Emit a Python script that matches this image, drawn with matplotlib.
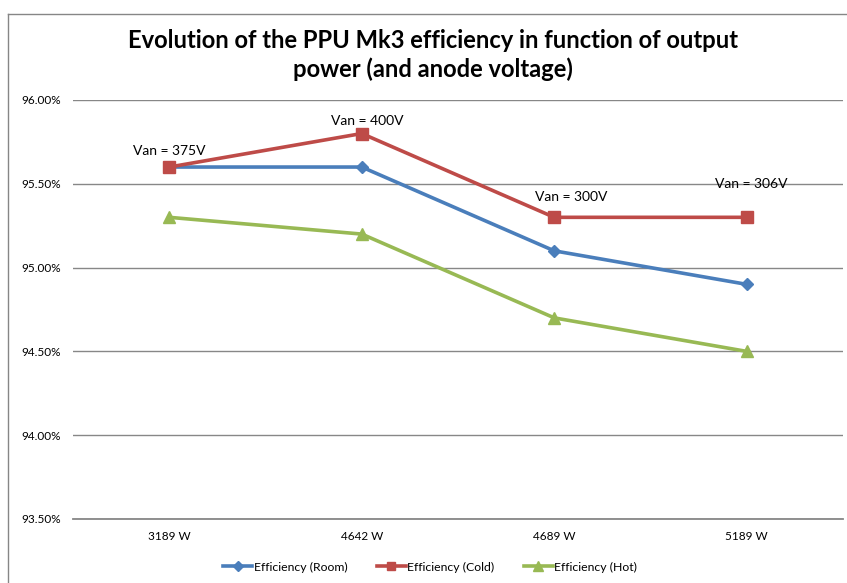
import matplotlib
matplotlib.use('Agg')
from matplotlib import pyplot as plt
from matplotlib.lines import Line2D
from matplotlib.ticker import FuncFormatter

plt.rcParams['font.family'] = ['Lato', 'DejaVu Sans']

categories = ['3189 W', '4642 W', '4689 W', '5189 W']
room = [95.6, 95.6, 95.1, 94.9]
cold = [95.6, 95.8, 95.3, 95.3]
hot = [95.3, 95.2, 94.7, 94.5]
van_labels = ['Van = 375V', 'Van = 400V', 'Van = 300V', 'Van = 306V']
yticks = [93.5, 94.0, 94.5, 95.0, 95.5, 96.0]

fig = plt.figure(figsize=(8.47, 5.83), dpi=100)
ax = fig.add_axes([73/847, 1-519/583, 770/847, 419/583])

x = list(range(len(categories)))
ax.plot(x, room, color='#4A7EBB', lw=2.6, marker='D', ms=6.5, label='Efficiency (Room)')
ax.plot(x, cold, color='#BE4B48', lw=2.6, marker='s', ms=8, label='Efficiency (Cold)')
ax.plot(x, hot, color='#98B954', lw=2.6, marker='^', ms=8.5, label='Efficiency (Hot)')

# etiquettes Van, deplacees a la main comme dans excel
offs = [(0, 7), (4, 5), (12, 10), (3, 20)]
for i in x:
    ax.annotate(van_labels[i], (i, cold[i]), xytext=offs[i], textcoords='offset points',
                ha='center', va='bottom', fontsize=10, color='#000000')

ax.set_xlim(-0.5, 3.5)
ax.set_ylim(93.5, 96.0)
ax.set_yticks(yticks)
ax.yaxis.set_major_formatter(FuncFormatter(lambda v, p: '%.2f%%' % v))
ax.set_xticks(x)
ax.set_xticklabels(categories)
ax.tick_params(axis='both', length=0, labelsize=8.5, colors='#000000')
ax.tick_params(axis='x', pad=9)
ax.tick_params(axis='y', pad=9)
ax.grid(axis='y', color='#878787', lw=1)
for s in ['left', 'right', 'top']:
    ax.spines[s].set_visible(False)
ax.spines['bottom'].set_color('#878787')
ax.spines['bottom'].set_linewidth(1.3)

fig.text(433/847, 1-55/583, 'Evolution of the PPU Mk3 efficiency in function of output\npower (and anode voltage)',
         ha='center', va='center', fontsize=17.1, fontweight='bold', linespacing=1.25)

fig.legend(loc='center', bbox_to_anchor=(430/847, 1-567/583), ncol=3, frameon=False,
           fontsize=8.8, handlelength=2.4, columnspacing=2.4, handletextpad=0.1, markerscale=0.8)

# bordure du graphique
fig.add_artist(Line2D([8/847, 8/847], [0, 1-14/583], color='#868686', lw=1))
fig.add_artist(Line2D([8/847, 1], [1-14/583, 1-14/583], color='#868686', lw=1))

fig.savefig('out.png', dpi=100)
